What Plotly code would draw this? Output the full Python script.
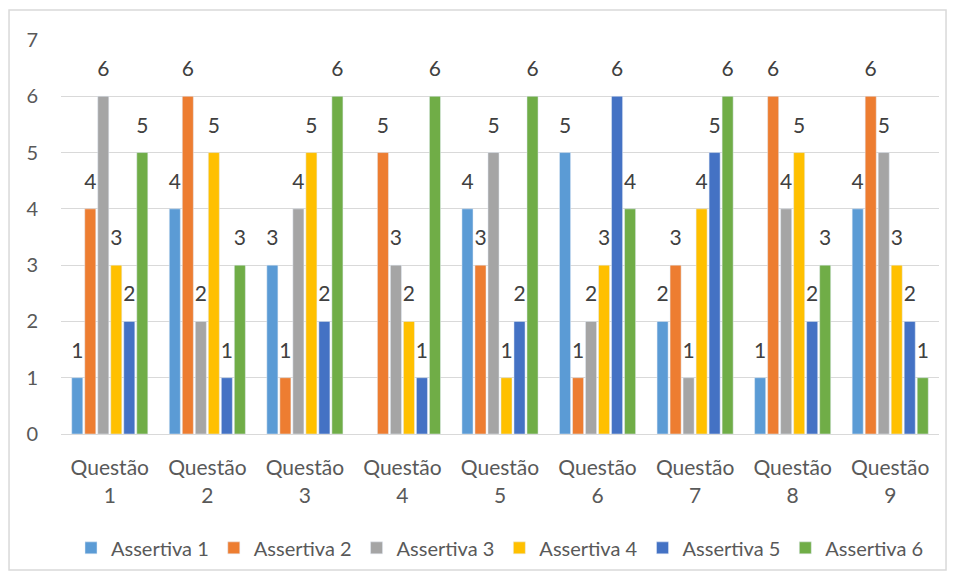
import plotly.graph_objects as go

categories = ["Questão<br>1", "Questão<br>2", "Questão<br>3", "Questão<br>4", "Questão<br>5",
              "Questão<br>6", "Questão<br>7", "Questão<br>8", "Questão<br>9"]
series_names = ["Assertiva 1", "Assertiva 2", "Assertiva 3", "Assertiva 4", "Assertiva 5", "Assertiva 6"]
assertiva1 = [1, 4, 3, None, 4, 5, 2, 1, 4]
assertiva2 = [4, 6, 1, 5, 3, 1, 3, 6, 6]
assertiva3 = [6, 2, 4, 3, 5, 2, 1, 4, 5]
assertiva4 = [3, 5, 5, 2, 1, 3, 4, 5, 3]
assertiva5 = [2, 1, 2, 1, 2, 6, 5, 2, 2]
assertiva6 = [5, 3, 6, 6, 6, 4, 6, 3, 1]
y_ticks = [0, 1, 2, 3, 4, 5, 6, 7]

colors = ["#5B9BD5", "#ED7D31", "#A5A5A5", "#FFC000", "#4472C4", "#70AD47"]
values = [assertiva1, assertiva2, assertiva3, assertiva4, assertiva5, assertiva6]

FONT = "Lato"
GAP = 0.2
fig = go.Figure()
for i, (name, vals, col) in enumerate(zip(series_names, values, colors)):
    fig.add_trace(go.Bar(
        x=categories, y=vals, name=name, marker_color=col,
        offsetgroup=str(i), hoverinfo="skip",
    ))
for i, (name, vals, col) in enumerate(zip(series_names, values, colors)):
    fig.add_trace(go.Scatter(
        x=categories, y=vals, mode="markers+text", showlegend=False,
        offsetgroup=str(i),
        marker=dict(size=22, color="rgba(0,0,0,0)"),
        text=[("" if v is None else str(v)) for v in vals],
        textposition="top center", cliponaxis=False,
        textfont=dict(family=FONT, size=21, color="#404040"),
        hoverinfo="skip",
    ))

fig.update_layout(
    width=956, height=577,
    margin=dict(l=61, r=17, t=40, b=143, autoexpand=False),
    plot_bgcolor="white", paper_bgcolor="white",
    barmode="group", bargap=GAP, bargroupgap=0.15,
    scattermode="group", scattergap=GAP,
    font=dict(family=FONT, size=20, color="#595959"),
    showlegend=True,
    legend=dict(orientation="h", x=0.5, xanchor="center", y=-0.289, yanchor="middle",
                font=dict(family=FONT, size=20, color="#595959"),
                itemwidth=30, traceorder="normal"),
    xaxis=dict(showgrid=False, showline=True, linecolor="#D9D9D9", linewidth=1,
               ticks="", ticklabelstandoff=15,
               tickfont=dict(family=FONT, size=21, color="#595959")),
    yaxis=dict(range=[0, 7], tickvals=y_ticks, showgrid=True, gridcolor="#D9D9D9",
               gridwidth=1, zeroline=False, showline=False, ticks="",
               ticklen=0, ticklabelstandoff=22,
               tickfont=dict(family=FONT, size=20, color="#595959")),
    shapes=[dict(type="rect", xref="paper", yref="paper",
                 x0=-0.0592, x1=1.008, y0=-0.345, y1=1.076,
                 line=dict(color="#D9D9D9", width=1.5), layer="below")],
)

fig.write_html("out.html")
